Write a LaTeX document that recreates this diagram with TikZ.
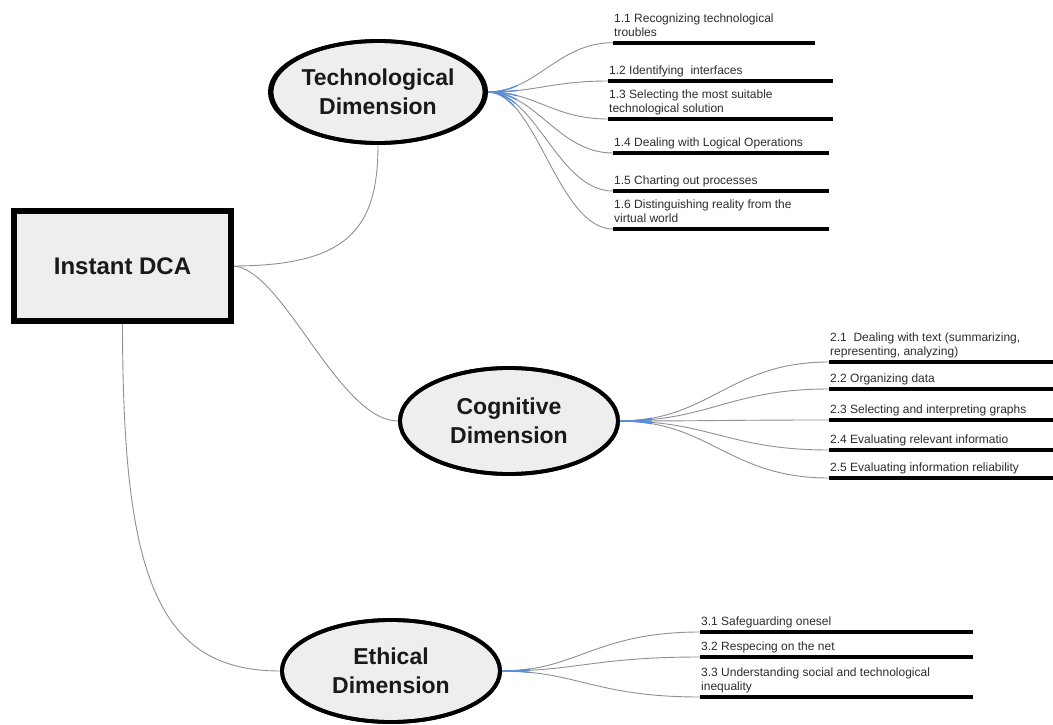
\documentclass[tikz,border=0pt]{standalone}
\usepackage{fontspec}
\setmainfont{Liberation Sans}
\usetikzlibrary{shapes.geometric}

\definecolor{wire}{RGB}{140,144,152}
\definecolor{fanblue}{RGB}{90,140,215}
\definecolor{hubfill}{RGB}{238,238,238}
\definecolor{leaftext}{RGB}{45,45,45}

\tikzset{
  hub/.style={ellipse, draw=black, line width=3.8pt, fill=hubfill, inner sep=0pt,
    align=center, font=\bfseries\fontsize{23}{29}\selectfont, text=black!90},
  rootbox/.style={rectangle, draw=black, line width=4pt, fill=hubfill, inner sep=0pt,
    minimum width=215pt, minimum height=108pt,
    font=\bfseries\fontsize{24}{28}\selectfont, text=black!90},
  leaf/.style={anchor=base west, inner sep=0pt, text=leaftext,
    font=\fontsize{12}{14}\selectfont},
  bar/.style={line width=4pt, black},
  wire/.style={draw=wire, line width=0.9pt},
  fan/.style={draw=fanblue, line width=1.3pt}
}

\begin{document}
\begin{tikzpicture}[x=1pt, y=-1pt]
\useasboundingbox (0,0) rectangle (1053,725);
\fill[white] (0,0) rectangle (1053,725);

% ---- main nodes ----
\node[rootbox] (root) at (122.5,266) {Instant DCA};
\node[hub, minimum width=213pt, minimum height=102pt] (tech) at (378,92) {Technological\\Dimension};
\node[hub, minimum width=218pt, minimum height=106pt] (cog) at (509,421) {Cognitive\\Dimension};
\node[hub, minimum width=218pt, minimum height=102pt] (eth) at (391,671) {Ethical\\Dimension};

% ---- technological competences ----
\coordinate (t1a) at (613,42.7);  \coordinate (t1b) at (815,42.7);
\coordinate (t2a) at (608,81);    \coordinate (t2b) at (833,81);
\coordinate (t3a) at (608,119);   \coordinate (t3b) at (833,119);
\coordinate (t4a) at (613,153);   \coordinate (t4b) at (829,153);
\coordinate (t5a) at (613,191);   \coordinate (t5b) at (829,191);
\coordinate (t6a) at (613,229);   \coordinate (t6b) at (829,229);
\node[leaf] (t1) at (614,36.2)  {\parbox[b]{260pt}{1.1 Recognizing technological\\troubles}};
\node[leaf] (t2) at (609,74.5)  {\parbox[b]{260pt}{1.2 Identifying\ \ interfaces}};
\node[leaf] (t3) at (609,112.5) {\parbox[b]{260pt}{1.3 Selecting the most suitable\\technological solution}};
\node[leaf] (t4) at (614,146.5) {\parbox[b]{260pt}{1.4 Dealing with Logical Operations}};
\node[leaf] (t5) at (614,184.5) {\parbox[b]{260pt}{1.5 Charting out processes}};
\node[leaf] (t6) at (614,222.5) {\parbox[b]{260pt}{1.6 Distinguishing reality from the\\virtual world}};

% ---- cognitive competences ----
\coordinate (c1a) at (829,362);   \coordinate (c1b) at (1053,362);
\coordinate (c2a) at (829,389);   \coordinate (c2b) at (1053,389);
\coordinate (c3a) at (829,420);   \coordinate (c3b) at (1053,420);
\coordinate (c4a) at (829,450);   \coordinate (c4b) at (1053,450);
\coordinate (c5a) at (829,478);   \coordinate (c5b) at (1053,478);
\node[leaf] (c1) at (830,355.5) {\parbox[b]{260pt}{2.1\ \ Dealing with text (summarizing,\\representing, analyzing)}};
\node[leaf] (c2) at (830,382.5) {\parbox[b]{260pt}{2.2 Organizing data}};
\node[leaf] (c3) at (830,413.5) {\parbox[b]{260pt}{2.3 Selecting and interpreting graphs}};
\node[leaf] (c4) at (830,443.5) {\parbox[b]{260pt}{2.4 Evaluating relevant informatio}};
\node[leaf] (c5) at (830,471.5) {\parbox[b]{260pt}{2.5 Evaluating information reliability}};

% ---- ethical competences ----
\coordinate (e1a) at (700,632);   \coordinate (e1b) at (973,632);
\coordinate (e2a) at (700,657);   \coordinate (e2b) at (973,657);
\coordinate (e3a) at (700,697);   \coordinate (e3b) at (973,697);
\node[leaf] (e1) at (701,625.5) {\parbox[b]{300pt}{3.1 Safeguarding onesel}};
\node[leaf] (e2) at (701,650.5) {\parbox[b]{300pt}{3.2 Respecing on the net}};
\node[leaf] (e3) at (701,690.5) {\parbox[b]{300pt}{3.3 Understanding social and technological\\inequality}};

% ---- underline bars ----
\foreach \g in {t1,t2,t3,t4,t5,t6,c1,c2,c3,c4,c5,e1,e2,e3}
  \draw[bar] (\g a) -- (\g b);

% ---- connectors ----
\draw[wire] (root.east) .. controls +(115,0) and +(0,85) .. (tech.south);
\draw[wire] (root.east) .. controls +(50,0) and +(-60,0) .. (cog.west);
\draw[wire] (root.south) .. controls +(0,250) and +(-125,0) .. (eth.west);
\foreach \l in {t1a,t2a,t3a,t4a,t5a,t6a}
  \draw[wire] (tech.east) .. controls +(48,0) and +(-55,0) .. (\l);
\foreach \l in {c1a,c2a,c3a,c4a,c5a}
  \draw[wire] (cog.east) .. controls +(90,0) and +(-100,0) .. (\l);
\foreach \l in {e1a,e2a,e3a}
  \draw[wire] (eth.east) .. controls +(75,0) and +(-105,0) .. (\l);

% blue tint where the branches leave their hub
\begin{scope}
\clip (tech.east) circle (30);
\foreach \l in {t1a,t2a,t3a,t4a,t5a,t6a}
  \draw[fan] (tech.east) .. controls +(48,0) and +(-55,0) .. (\l);
\end{scope}
\begin{scope}
\clip (cog.east) circle (32);
\foreach \l in {c1a,c2a,c3a,c4a,c5a}
  \draw[fan] (cog.east) .. controls +(90,0) and +(-100,0) .. (\l);
\end{scope}
\begin{scope}
\clip (eth.east) circle (28);
\foreach \l in {e1a,e2a,e3a}
  \draw[fan] (eth.east) .. controls +(75,0) and +(-105,0) .. (\l);
\end{scope}

% redraw hub outlines over the wire ends
\draw[line width=3.8pt] (tech.center) ellipse (106.5pt and 51pt);
\draw[line width=3.8pt] (cog.center) ellipse (109pt and 53pt);
\draw[line width=3.8pt] (eth.center) ellipse (109pt and 51pt);
\draw[line width=4pt] (root.south west) rectangle (root.north east);
\end{tikzpicture}
\end{document}
